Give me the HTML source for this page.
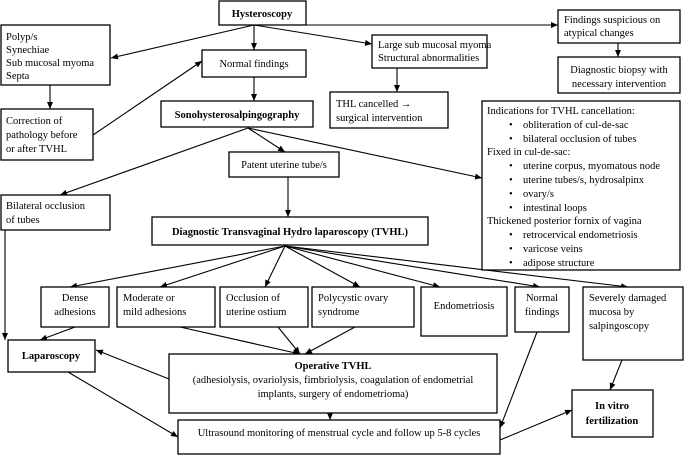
<!DOCTYPE html>
<html><head><meta charset="utf-8"><style>
html,body{margin:0;padding:0;background:#fff}
svg{display:block;font-family:"Liberation Serif",serif;font-size:10.5px}
rect{fill:#fff;stroke:#000;stroke-width:1.3}
line{stroke:#000;stroke-width:1.1}
.b{font-weight:bold}
</style></head><body>
<svg width="685" height="456" viewBox="0 0 685 456">
<defs><marker id="a" markerWidth="8" markerHeight="8" refX="7" refY="4" orient="auto" markerUnits="userSpaceOnUse"><path d="M0,1 L7,4 L0,7z" fill="#000"/></marker></defs>
<g marker-end="url(#a)">
<line x1="254" y1="25" x2="111" y2="58"/>
<line x1="254" y1="25" x2="254" y2="50"/>
<line x1="254" y1="25" x2="372" y2="44"/>
<line x1="254" y1="25" x2="558" y2="25"/>
<line x1="50" y1="85" x2="50" y2="109"/>
<line x1="93" y1="135" x2="202" y2="61"/>
<line x1="254" y1="77" x2="254" y2="101"/>
<line x1="397" y1="68" x2="397" y2="92"/>
<line x1="618" y1="43" x2="618" y2="57"/>
<line x1="248" y1="128" x2="285" y2="152"/>
<line x1="248" y1="128" x2="60" y2="195"/>
<line x1="248" y1="128" x2="482" y2="178"/>
<line x1="288" y1="177" x2="288" y2="217"/>
<line x1="5" y1="230" x2="5" y2="340"/>
<line x1="285" y1="246" x2="70" y2="287"/>
<line x1="285" y1="246" x2="160" y2="287"/>
<line x1="285" y1="246" x2="265" y2="287"/>
<line x1="285" y1="246" x2="360" y2="287"/>
<line x1="285" y1="246" x2="440" y2="287"/>
<line x1="285" y1="246" x2="540" y2="287"/>
<line x1="285" y1="246" x2="628" y2="287"/>
<line x1="75" y1="327" x2="40" y2="340"/>
<line x1="180" y1="327" x2="300" y2="354"/>
<line x1="278" y1="327" x2="300" y2="354"/>
<line x1="355" y1="327" x2="305" y2="354"/>
<line x1="169" y1="379" x2="96" y2="350"/>
<line x1="68" y1="372" x2="178" y2="437"/>
<line x1="330" y1="413" x2="330" y2="420"/>
<line x1="537" y1="332" x2="500" y2="428"/>
<line x1="500" y1="440" x2="572" y2="410"/>
<line x1="622" y1="360" x2="610" y2="390"/>
</g>
<rect x="219" y="1" width="87" height="24"/><text x="262" y="17" text-anchor="middle" class="b">Hysteroscopy</text>
<rect x="1" y="25" width="109" height="60"/><text x="6" y="40">Polyp/s</text><text x="6" y="53">Synechiae</text><text x="6" y="66">Sub mucosal myoma</text><text x="6" y="79">Septa</text>
<rect x="202" y="50" width="104" height="27"/><text x="254" y="67" text-anchor="middle">Normal findings</text>
<rect x="372" y="35" width="115" height="33"/><text x="378" y="48">Large sub mucosal myoma</text><text x="378" y="61">Structural abnormalities</text>
<rect x="558" y="10" width="122" height="33"/><text x="564" y="23">Findings suspicious on</text><text x="564" y="36">atypical changes</text>
<rect x="558" y="57" width="122" height="36"/><text x="619" y="73" text-anchor="middle">Diagnostic biopsy with</text><text x="619" y="87" text-anchor="middle">necessary intervention</text>
<rect x="1" y="109" width="92" height="51"/><text x="6" y="124">Correction of</text><text x="6" y="138">pathology before</text><text x="6" y="152">or after TVHL</text>
<rect x="161" y="101" width="152" height="26"/><text x="237" y="118" text-anchor="middle" class="b">Sonohysterosalpingography</text>
<rect x="330" y="92" width="118" height="36"/><text x="336" y="107">THL cancelled →</text><text x="336" y="121">surgical intervention</text>
<rect x="482" y="101" width="198" height="169"/>
<g><text x="487" y="114">Indications for TVHL cancellation:</text>
<text x="509" y="128">•</text><text x="523" y="128">obliteration of cul-de-sac</text>
<text x="509" y="142">•</text><text x="523" y="142">bilateral occlusion of tubes</text>
<text x="487" y="155">Fixed in cul-de-sac:</text>
<text x="509" y="169">•</text><text x="523" y="169">uterine corpus, myomatous node</text>
<text x="509" y="183">•</text><text x="523" y="183">uterine tubes/s, hydrosalpinx</text>
<text x="509" y="197">•</text><text x="523" y="197">ovary/s</text>
<text x="509" y="211">•</text><text x="523" y="211">intestinal loops</text>
<text x="487" y="224">Thickened posterior fornix of vagina</text>
<text x="509" y="238">•</text><text x="523" y="238">retrocervical endometriosis</text>
<text x="509" y="252">•</text><text x="523" y="252">varicose veins</text>
<text x="509" y="266">•</text><text x="523" y="266">adipose structure</text></g>
<rect x="229" y="152" width="110" height="25"/><text x="284" y="168" text-anchor="middle">Patent uterine tube/s</text>
<rect x="1" y="195" width="109" height="35"/><text x="6" y="209">Bilateral occlusion</text><text x="6" y="223">of tubes</text>
<rect x="152" y="217" width="276" height="28"/><text x="290" y="235" text-anchor="middle" class="b">Diagnostic Transvaginal Hydro laparoscopy (TVHL)</text>
<rect x="41" y="287" width="68" height="40"/><text x="75" y="301" text-anchor="middle">Dense</text><text x="75" y="315" text-anchor="middle">adhesions</text>
<rect x="117" y="287" width="98" height="40"/><text x="123" y="301">Moderate or</text><text x="123" y="315">mild adhesions</text>
<rect x="220" y="287" width="88" height="40"/><text x="226" y="301">Occlusion of</text><text x="226" y="315">uterine ostium</text>
<rect x="312" y="287" width="102" height="40"/><text x="318" y="301">Polycystic ovary</text><text x="318" y="315">syndrome</text>
<rect x="421" y="287" width="86" height="49"/><text x="464" y="309" text-anchor="middle">Endometriosis</text>
<rect x="515" y="287" width="54" height="45"/><text x="542" y="301" text-anchor="middle">Normal</text><text x="542" y="315" text-anchor="middle">findings</text>
<rect x="583" y="287" width="100" height="73"/><text x="589" y="301">Severely damaged</text><text x="589" y="315">mucosa by</text><text x="589" y="329">salpingoscopy</text>
<rect x="8" y="340" width="87" height="32"/><text x="51" y="359" text-anchor="middle" class="b">Laparoscopy</text>
<rect x="169" y="354" width="328" height="59"/><text x="333" y="369" text-anchor="middle" class="b">Operative TVHL</text><text x="333" y="383" text-anchor="middle">(adhesiolysis, ovariolysis, fimbriolysis, coagulation of endometrial</text><text x="333" y="397" text-anchor="middle">implants, surgery of endometrioma)</text>
<rect x="178" y="420" width="322" height="34"/><text x="339" y="436" text-anchor="middle">Ultrasound monitoring of menstrual cycle and follow up 5-8 cycles</text>
<rect x="572" y="390" width="81" height="47"/><text x="612" y="409" text-anchor="middle" class="b">In vitro</text><text x="612" y="424" text-anchor="middle" class="b">fertilization</text>
</svg>
</body></html>
